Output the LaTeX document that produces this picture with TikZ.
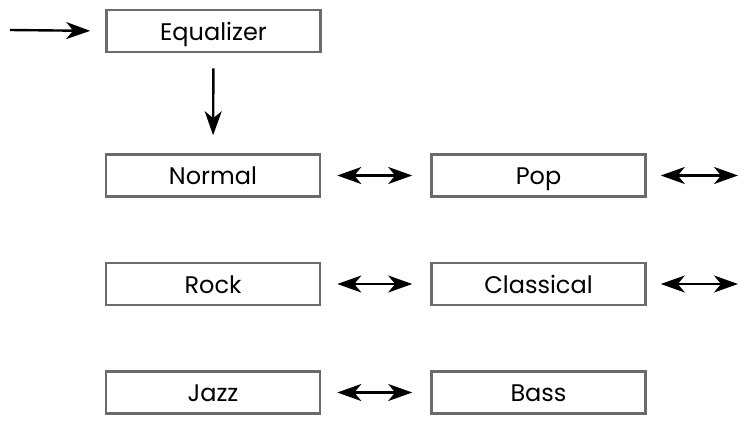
\documentclass[tikz,border=0pt]{standalone}
\usepackage{fontspec}
\setmainfont{Poppins}
\usetikzlibrary{arrows.meta,positioning}

\definecolor{boxgray}{gray}{0.42}
\tikzset{
  modebox/.style={draw=boxgray, line width=2.6pt, minimum width=214pt, minimum height=42pt, inner sep=0pt, text height=18pt, text depth=0pt, font=\fontsize{24}{30}\selectfont},
  link/.style={line width=2.4pt, black},
  one/.style={-{Stealth[length=24pt,width=17pt,inset=7pt]}},
  both/.style={{Stealth[length=24pt,width=17pt,inset=7pt]}-{Stealth[length=24pt,width=17pt,inset=7pt]}}
}

\begin{document}
\begin{tikzpicture}[x=1pt, y=-1pt]
  \useasboundingbox (0,0) rectangle (746,423);
  % boxes
  \node[modebox] (eq) at (213.5,31) {Equalizer};
  \node[modebox] (normal) at (213,175.5) {Normal};
  \node[modebox] (pop) at (538.5,175.5) {Pop};
  \node[modebox] (rock) at (213,284) {Rock};
  \node[modebox] (classical) at (538.5,284) {Classical};
  \node[modebox] (jazz) at (213,392.5) {Jazz};
  \node[modebox] (bass) at (538.5,392.5) {Bass};
  % free ends
  \coordinate (in) at (10,30);
  \coordinate (popout) at (738,175.5);
  \coordinate (classout) at (738,284);
  % connectors
  \draw[link, one, shorten >=15pt] (in) -- (eq.west);
  \draw[link, one, shorten <=15pt, shorten >=18pt] (eq.south) -- (normal.north);
  \draw[link, both, shorten <=16pt, shorten >=18pt] (normal) -- (pop);
  \draw[link, both, shorten <=16pt, shorten >=18pt] (rock) -- (classical);
  \draw[link, both, shorten <=16pt, shorten >=18pt] (jazz) -- (bass);
  \draw[link, both, shorten <=14pt] (pop.east) -- (popout);
  \draw[link, both, shorten <=14pt] (classical.east) -- (classout);
\end{tikzpicture}
\end{document}
